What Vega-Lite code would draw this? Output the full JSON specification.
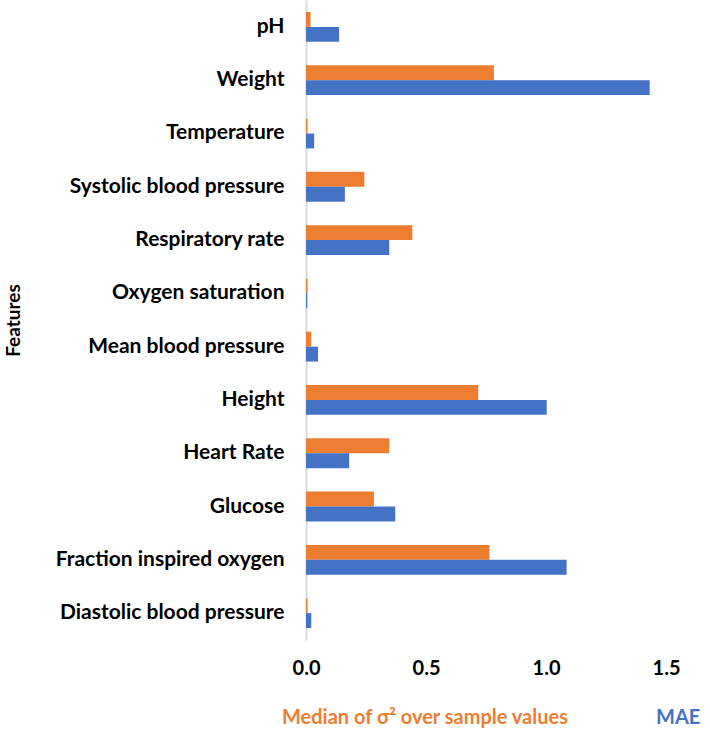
{
  "$schema": "https://vega.github.io/schema/vega-lite/v6.json",
  "width": 384,
  "height": 640,
  "autosize": {"type": "none"},
  "padding": {"left": 306, "top": 0, "right": 20, "bottom": 92},
  "background": "white",
  "config": {
    "font": "Lato",
    "view": {"stroke": null}
  },
  "data": {
    "values": [
      {"feature": "pH", "series": "Median of σ² over sample values", "value": 0.019},
      {"feature": "pH", "series": "MAE", "value": 0.138},
      {"feature": "Weight", "series": "Median of σ² over sample values", "value": 0.783},
      {"feature": "Weight", "series": "MAE", "value": 1.432},
      {"feature": "Temperature", "series": "Median of σ² over sample values", "value": 0.006},
      {"feature": "Temperature", "series": "MAE", "value": 0.034},
      {"feature": "Systolic blood pressure", "series": "Median of σ² over sample values", "value": 0.243},
      {"feature": "Systolic blood pressure", "series": "MAE", "value": 0.162},
      {"feature": "Respiratory rate", "series": "Median of σ² over sample values", "value": 0.443},
      {"feature": "Respiratory rate", "series": "MAE", "value": 0.347},
      {"feature": "Oxygen saturation", "series": "Median of σ² over sample values", "value": 0.006},
      {"feature": "Oxygen saturation", "series": "MAE", "value": 0.005},
      {"feature": "Mean blood pressure", "series": "Median of σ² over sample values", "value": 0.022},
      {"feature": "Mean blood pressure", "series": "MAE", "value": 0.05},
      {"feature": "Height", "series": "Median of σ² over sample values", "value": 0.718},
      {"feature": "Height", "series": "MAE", "value": 1.003},
      {"feature": "Heart Rate", "series": "Median of σ² over sample values", "value": 0.347},
      {"feature": "Heart Rate", "series": "MAE", "value": 0.18},
      {"feature": "Glucose", "series": "Median of σ² over sample values", "value": 0.283},
      {"feature": "Glucose", "series": "MAE", "value": 0.372},
      {"feature": "Fraction inspired oxygen", "series": "Median of σ² over sample values", "value": 0.764},
      {"feature": "Fraction inspired oxygen", "series": "MAE", "value": 1.086},
      {"feature": "Diastolic blood pressure", "series": "Median of σ² over sample values", "value": 0.006},
      {"feature": "Diastolic blood pressure", "series": "MAE", "value": 0.022}
    ]
  },
  "mark": {"type": "bar"},
  "encoding": {
    "y": {
      "field": "feature",
      "type": "nominal",
      "sort": ["pH", "Weight", "Temperature", "Systolic blood pressure", "Respiratory rate", "Oxygen saturation", "Mean blood pressure", "Height", "Heart Rate", "Glucose", "Fraction inspired oxygen", "Diastolic blood pressure"],
      "scale": {"paddingInner": 0.44, "paddingOuter": 0.225},
      "axis": {
        "title": "Features",
        "titleFontSize": 19,
        "titleFontWeight": "bold",
        "titleColor": "black",
        "titleX": -283,
        "titleY": 320,
        "titleAngle": -90,
        "titleAlign": "center",
        "titleBaseline": "bottom",
        "labelFontSize": 21,
        "labelFontWeight": "bold",
        "labelColor": "black",
        "labelPadding": 22,
        "labelLimit": 400,
        "ticks": false,
        "domainColor": "#D9D9D9",
        "domainWidth": 2,
        "grid": false
      }
    },
    "yOffset": {
      "field": "series",
      "type": "nominal",
      "scale": {"domain": ["Median of σ² over sample values", "MAE"], "paddingInner": 0, "paddingOuter": 0}
    },
    "x": {
      "field": "value",
      "type": "quantitative",
      "scale": {"domain": [0, 1.6], "nice": false},
      "axis": {
        "title": null,
        "values": [0, 0.5, 1, 1.5],
        "format": ".1f",
        "labelFontSize": 20,
        "labelFontWeight": "bold",
        "labelColor": "black",
        "labelPadding": 18,
        "labelFlush": false,
        "ticks": false,
        "domain": false,
        "grid": false
      }
    },
    "color": {
      "field": "series",
      "type": "nominal",
      "scale": {"domain": ["Median of σ² over sample values", "MAE"], "range": ["#ED7D31", "#4472C4"]},
      "legend": {
        "title": null,
        "orient": "none",
        "direction": "horizontal",
        "legendX": -44,
        "legendY": 708,
        "symbolSize": 0,
        "symbolStrokeWidth": 0,
        "labelOffset": 0,
        "columnPadding": 66,
        "labelFontSize": 20,
        "labelFontWeight": "bold",
        "labelLimit": 500,
        "encode": {
          "labels": {"update": {"fill": {"scale": "color", "field": "value"}}}
        }
      }
    }
  }
}
